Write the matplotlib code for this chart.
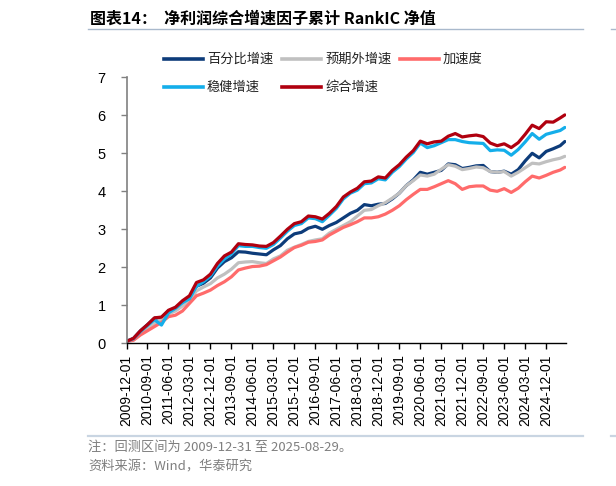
import numpy as np
import pandas as pd
import matplotlib
matplotlib.use("Agg")
import matplotlib.pyplot as plt
from matplotlib.lines import Line2D

plt.rcParams['font.family'] = ['Liberation Sans', 'Noto Sans CJK SC', 'DejaVu Sans']

# ---------------- data (quarterly samples) ----------------
dates = pd.date_range('2009-12-31', '2025-06-30', freq='3ME').append(pd.DatetimeIndex(['2025-08-29']))

pct_growth = [0.05, 0.13, 0.33, 0.49, 0.66, 0.68, 0.85, 0.93, 1.08, 1.20, 1.50, 1.58, 1.72, 1.98, 2.15, 2.25,
              2.41, 2.40, 2.37, 2.35, 2.33, 2.46, 2.57, 2.75, 2.88, 2.92, 3.03, 3.08, 3.00, 3.10, 3.18, 3.30,
              3.42, 3.50, 3.65, 3.62, 3.66, 3.68, 3.80, 3.95, 4.15, 4.30, 4.50, 4.45, 4.50, 4.55, 4.72, 4.70,
              4.60, 4.63, 4.67, 4.68, 4.52, 4.50, 4.53, 4.45, 4.57, 4.80, 5.00, 4.88, 5.05, 5.12, 5.20, 5.31]
surprise = [0.05, 0.10, 0.27, 0.38, 0.52, 0.62, 0.77, 0.85, 0.98, 1.10, 1.38, 1.48, 1.57, 1.72, 1.82, 1.95,
            2.12, 2.14, 2.15, 2.12, 2.10, 2.22, 2.30, 2.45, 2.53, 2.60, 2.68, 2.72, 2.75, 2.90, 3.00, 3.10,
            3.20, 3.35, 3.50, 3.52, 3.62, 3.70, 3.82, 3.95, 4.15, 4.28, 4.43, 4.40, 4.45, 4.58, 4.70, 4.66,
            4.57, 4.60, 4.64, 4.62, 4.52, 4.50, 4.52, 4.40, 4.50, 4.62, 4.74, 4.72, 4.78, 4.83, 4.87, 4.92]
accel = [0.05, 0.08, 0.22, 0.33, 0.44, 0.55, 0.70, 0.74, 0.85, 1.05, 1.25, 1.32, 1.40, 1.52, 1.62, 1.75,
         1.93, 1.98, 2.02, 2.03, 2.07, 2.17, 2.27, 2.40, 2.52, 2.58, 2.66, 2.68, 2.72, 2.85, 2.95, 3.05,
         3.12, 3.20, 3.30, 3.30, 3.33, 3.40, 3.50, 3.62, 3.78, 3.92, 4.05, 4.05, 4.12, 4.20, 4.28, 4.20,
         4.05, 4.12, 4.14, 4.14, 4.03, 4.00, 4.07, 3.97, 4.08, 4.25, 4.40, 4.35, 4.42, 4.50, 4.56, 4.63]
stable = [0.05, 0.12, 0.31, 0.47, 0.62, 0.48, 0.80, 0.92, 1.07, 1.17, 1.50, 1.62, 1.77, 2.03, 2.22, 2.35,
          2.57, 2.55, 2.55, 2.52, 2.50, 2.60, 2.77, 2.95, 3.10, 3.15, 3.30, 3.28, 3.20, 3.37, 3.55, 3.80,
          3.95, 4.03, 4.20, 4.22, 4.33, 4.30, 4.50, 4.65, 4.85, 5.02, 5.27, 5.15, 5.20, 5.28, 5.36, 5.36,
          5.31, 5.28, 5.27, 5.26, 5.07, 5.09, 5.08, 4.95, 5.10, 5.30, 5.52, 5.37, 5.50, 5.55, 5.60, 5.68]
composite = [0.05, 0.13, 0.33, 0.49, 0.67, 0.69, 0.87, 0.95, 1.12, 1.25, 1.60, 1.67, 1.82, 2.10, 2.30, 2.40,
             2.62, 2.60, 2.59, 2.56, 2.55, 2.65, 2.82, 3.00, 3.15, 3.20, 3.35, 3.33, 3.27, 3.42, 3.60, 3.85,
             3.98, 4.08, 4.25, 4.27, 4.38, 4.35, 4.55, 4.70, 4.90, 5.07, 5.32, 5.25, 5.30, 5.32, 5.45, 5.52,
             5.43, 5.46, 5.48, 5.44, 5.27, 5.20, 5.25, 5.15, 5.28, 5.50, 5.74, 5.65, 5.83, 5.82, 5.93, 6.01]

series_names = ['百分比增速', '预期外增速', '加速度', '稳健增速', '综合增速']
series_vals = [pct_growth, surprise, accel, stable, composite]
colors = ['#0d3c7a', '#c0c0c0', '#ff6b6b', '#14aeea', '#b0000f']

tick_dates = pd.date_range('2009-12-01', '2024-12-01', freq='9MS')

# month index helper
def midx(d):
    return (d.year - 2009) * 12 + (d.month - 12)

x = np.array([midx(d) for d in dates])
tick_x = [midx(d) for d in tick_dates]
tick_labels = [d.strftime('%Y-%m-%d') for d in tick_dates]

# ---------------- figure ----------------
fig = plt.figure(figsize=(6.16, 4.86), dpi=100)
W, H = 616, 486
ax = fig.add_axes([126.5 / W, 1 - 343.3 / H, (566 - 126.5) / W, (343.3 - 77.3) / H])

for name, vals, c in zip(series_names, series_vals, colors):
    ax.plot(x, vals, color=c, lw=2.3, solid_joinstyle='round', solid_capstyle='round')

ax.set_xlim(0, 188.5)
ax.set_ylim(0, 7)
ax.set_yticks(range(0, 8))
ax.set_xticks(tick_x)
ax.set_xticklabels(tick_labels, rotation=90, fontsize=10)
ax.tick_params(axis='y', labelsize=10.5, length=4, width=1, color='#808080', pad=11, direction='out')
ax.tick_params(axis='x', length=4, width=1, color='black', pad=4, direction='out')
for s in ['top', 'right']:
    ax.spines[s].set_visible(False)
ax.spines['left'].set_color('#808080')
ax.spines['left'].set_linewidth(1.2)
ax.spines['bottom'].set_color('black')
ax.spines['bottom'].set_linewidth(1.0)
ax.patch.set_alpha(0)

# ---------------- legend (manual grid) ----------------
cjk = ['Noto Sans CJK SC', 'DejaVu Sans']
leg_pos = [(164, 59.5), (282, 59.5), (400, 59.5), (164, 87), (282, 87)]
for (lx, ly), name, c in zip(leg_pos, series_names, colors):
    fig.add_artist(Line2D([lx / W, (lx + 39) / W], [1 - ly / H, 1 - ly / H], color=c, lw=2.6,
                          transform=fig.transFigure))
    fig.text((lx + 43) / W, 1 - ly / H, name, fontsize=9.5, family=cjk, va='center', ha='left',
             color='#222222')

# ---------------- title & frame lines ----------------
fig.text(90 / W, 1 - 19 / H, '图表14：  净利润综合增速因子累计 RankIC 净值', fontsize=11.5,
         fontweight='bold', family=cjk, va='center', ha='left', color='black')
fig.add_artist(Line2D([88 / W, 583 / W], [1 - 29.5 / H, 1 - 29.5 / H], color='#a9b9cc', lw=1.0,
                      transform=fig.transFigure))
fig.add_artist(Line2D([611 / W, 1.0], [1 - 29.5 / H, 1 - 29.5 / H], color='#a9b9cc', lw=1.0,
                      transform=fig.transFigure))

fig.add_artist(Line2D([88 / W, 583 / W], [1 - 436 / H, 1 - 436 / H], color='#c9d5e2', lw=1.6,
                      transform=fig.transFigure))
fig.add_artist(Line2D([611 / W, 1.0], [1 - 436 / H, 1 - 436 / H], color='#c9d5e2', lw=1.6,
                      transform=fig.transFigure))
fig.text(88 / W, 1 - 447.5 / H, '注：回测区间为 2009-12-31 至 2025-08-29。', fontsize=9.5,
         family=cjk, va='center', ha='left', color='#7f7f7f')
fig.text(88 / W, 1 - 467 / H, '资料来源：Wind，华泰研究', fontsize=9.5,
         family=cjk, va='center', ha='left', color='#7f7f7f')

fig.savefig('out.png', dpi=100)
